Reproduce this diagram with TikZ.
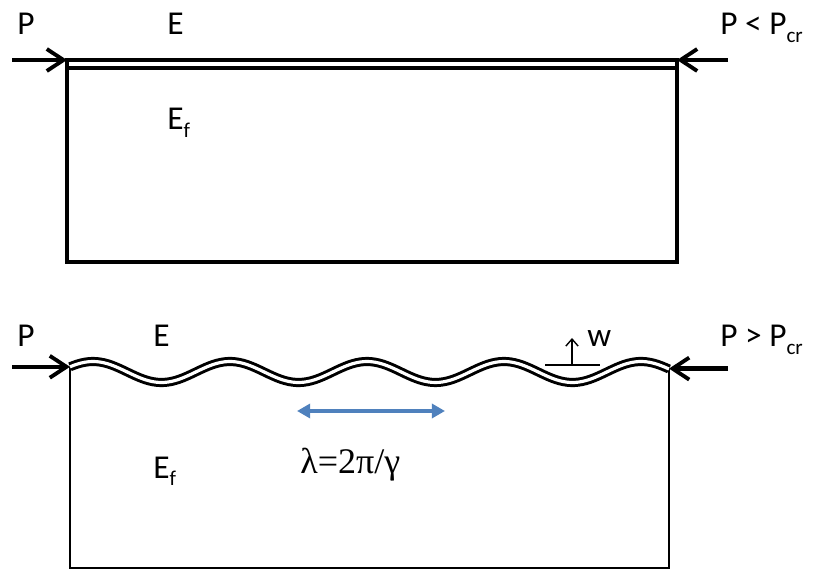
\documentclass[tikz,border=0pt]{standalone}
\usepackage{fontspec}
\setmainfont{Carlito}
\newfontfamily\policeGrec{Liberation Serif}
\usepackage{xcolor}
\usetikzlibrary{arrows.meta, positioning}
\definecolor{bleuOnde}{RGB}{79,129,189}
\newcommand{\indice}[1]{\raisebox{-4.5pt}{\fontsize{12}{12}\selectfont #1}}

\begin{document}
\begin{tikzpicture}[
				x=0.02cm, y=-0.02cm,
				% Styles des etiquettes et des traits
				etiquette/.style={font=\fontsize{19}{22}\selectfont, anchor=base west, inner sep=0pt},
				force/.style={-{Straight Barb[length=9.5pt, width=12.5pt, line width=2.2pt]}, line width=2.4pt},
				bordEpais/.style={line width=2.6pt, line join=miter},
				bordFin/.style={line width=1.5pt},
				onde/.style={line width=1.7pt, double=white, double distance=1.8pt},
				fleche/.style={-{Straight Barb[length=4pt, width=7pt]}, line width=0.8pt},
				lambdaFleche/.style={{Triangle[length=7.5pt, width=8pt]}-{Triangle[length=7.5pt, width=8pt]}, line width=2.3pt, bleuOnde},
				]
				
				\useasboundingbox (0,0) rectangle (822,574);
				
				% Film plan : P < Pcr
				\coordinate (filmG) at (67,60);
				\coordinate (filmD) at (677,60);
				\coordinate (queueG1) at (12,60);
				\coordinate (queueD1) at (728,60);
				
				\draw[bordEpais] (filmG) -- (filmD) -- (677,262) -- (67,262) -- cycle;
				\draw[bordEpais] (67,68) -- (677,68);
				
				\draw[force] (queueG1) -- (filmG);
				\draw[force] (queueD1) -- (filmD);
				
				\node[etiquette] (P1) at (17,35) {P};
				\node[etiquette] (E1) at (167,35) {E};
				\node[etiquette] (Ef1) at (167,130) {E\indice{f}};
				\node[etiquette] (Pcr1) at (720,35) {P < P\indice{cr}};
				
				
				% Film flambe : P > Pcr
				\coordinate (ondeG) at (70,366.8);
				\coordinate (ondeD) at (669,368.6);
				\coordinate (queueG2) at (12,366.8);
				\coordinate (queueD2) at (728,368.6);
				
				\draw[bordFin] (ondeG) -- (70,568) -- (669,568) -- (ondeD);
				\draw[onde] plot[domain=70:669, samples=160, smooth] (\x, {372-10.5*cos((\x-93)/137*360)});
				
				\draw[force] (queueG2) -- (ondeG);
				\draw[force] (queueD2) -- (ondeD);
				
				\coordinate (wG) at (545,365);
				\coordinate (wD) at (600,365);
				\coordinate (wBase) at (572,365);
				\coordinate (wHaut) at (572,338);
				\draw[line width=0.8pt] (wG) -- (wD);
				\draw[fleche] (wBase) -- (wHaut);
				
				\coordinate (lambdaG) at (297,411);
				\coordinate (lambdaD) at (445,411);
				\draw[lambdaFleche] (lambdaG) -- (lambdaD);
				
				\node[etiquette] (P2) at (17,347) {P};
				\node[etiquette] (E2) at (153,347) {E};
				\node[etiquette] (w) at (587,347) {w};
				\node[etiquette] (Pcr2) at (720,347) {P > P\indice{cr}};
				\node[etiquette] (Ef2) at (153,478) {E\indice{f}};
				\node[etiquette, font=\policeGrec\fontsize{20.5}{24}\selectfont] (lambda) at (300,473) {λ=2π/γ};
			\end{tikzpicture}
\end{document}
